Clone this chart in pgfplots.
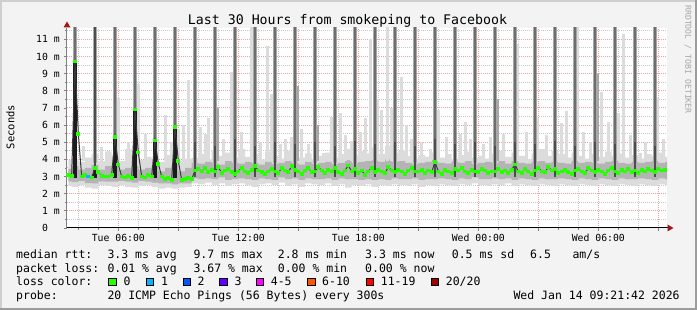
\documentclass[border=0pt]{standalone}
\usepackage{fontspec}
\setmonofont{DejaVu Sans Mono}
\usepackage{pgfplots}
\usepackage{pgfplotstable}
\pgfplotsset{compat=1.18}
\definecolor{bg}{HTML}{F3F3F3}
\definecolor{frameL}{HTML}{CFCFCF}
\definecolor{frameD}{HTML}{9C9C9C}
\definecolor{arrowred}{HTML}{A01818}
\definecolor{gridmaj}{HTML}{F0A0A0}
\definecolor{gridmin}{HTML}{C8C8C8}
\definecolor{smokeA}{HTML}{DCDCDC}
\definecolor{smokeB}{HTML}{B4B4B4}
\definecolor{halo}{HTML}{A8A8A8}
\definecolor{core}{HTML}{6E6E6E}
\definecolor{lowc}{HTML}{4D4D4D}
\definecolor{blk}{HTML}{1C1C1C}
\definecolor{medl}{HTML}{3A3A3A}
\definecolor{c0}{HTML}{26FF00}
\definecolor{c1}{HTML}{00B8FF}
\definecolor{c2}{HTML}{0059FF}
\definecolor{c3}{HTML}{5E00FF}
\definecolor{c4}{HTML}{FF00FF}
\definecolor{c6}{HTML}{FF5500}
\definecolor{c11}{HTML}{FF0000}
\definecolor{c20}{HTML}{A10000}

% light smoke band: upper edge forward, lower edge backward
\pgfplotstableread{
u y
21 3.95
23 4.05
25 3.85
27 4.10
29 4.30
31 3.90
33 4.45
35 4.20
37 3.90
39 4.60
41 4.30
43 3.95
45 4.15
47 4.00
49 3.85
51 4.25
53 4.40
55 3.90
57 4.05
59 4.10
61 4.30
63 4.00
65 4.50
67 4.20
69 4.40
71 4.10
73 4.60
75 4.15
77 4.30
79 4.00
81 4.45
83 4.20
85 4.05
87 4.50
89 4.25
91 4.10
93 4.35
95 4.00
97 4.20
99 4.40
101 4.10
103 4.30
105 4.60
107 4.25
109 4.50
111 4.35
113 4.70
115 4.30
117 4.80
119 4.40
121 4.50
123 4.20
125 4.05
127 4.25
129 4.15
131 4.40
133 4.10
135 4.30
137 4.00
139 4.25
141 4.45
143 4.10
145 4.20
147 4.05
149 4.30
151 4.50
153 4.15
155 4.40
157 4.20
159 4.00
161 4.35
163 4.60
165 4.20
167 4.50
169 4.30
171 4.10
173 4.40
175 4.20
177 4.05
179 4.30
181 4.15
183 4.45
185 4.20
187 4.35
189 4.10
191 4.25
193 4.05
195 4.30
197 4.20
199 4.40
201 4.15
201 2.50
199 2.55
197 2.45
195 2.50
193 2.55
191 2.45
189 2.50
187 2.55
185 2.45
183 2.50
181 2.55
179 2.45
177 2.50
175 2.55
173 2.45
171 2.50
169 2.55
167 2.45
165 2.50
163 2.55
161 2.45
159 2.50
157 2.55
155 2.45
153 2.60
151 2.50
149 2.55
147 2.45
145 2.50
143 2.60
141 2.50
139 2.55
137 2.45
135 2.50
133 2.55
131 2.45
129 2.50
127 2.40
125 2.55
123 2.45
121 2.50
119 2.55
117 2.45
115 2.50
113 2.40
111 2.55
109 2.45
107 2.50
105 2.35
103 2.55
101 2.45
99 2.60
97 2.50
95 2.55
93 2.60
91 2.40
89 2.55
87 2.45
85 2.65
83 2.50
81 2.60
79 2.55
77 2.40
75 2.50
73 2.60
71 2.55
69 2.45
67 2.60
65 2.50
63 2.65
61 2.55
59 2.60
57 2.40
55 2.35
53 2.30
51 2.35
49 2.30
47 2.40
45 2.50
43 2.45
41 2.35
39 2.40
37 2.50
35 2.40
33 2.45
31 2.50
29 2.30
27 2.35
25 2.50
23 2.40
21 2.45
}\bandA

% mid smoke band: upper edge forward, lower edge backward
\pgfplotstableread{
u y
21 3.45
23 3.60
25 3.40
27 3.50
29 3.70
31 3.40
33 3.60
35 3.70
37 3.40
39 3.50
41 3.60
43 3.40
45 3.50
47 3.60
49 3.30
51 3.50
53 3.70
55 3.30
57 3.50
59 3.80
61 3.75
63 3.85
65 3.80
67 3.70
69 3.90
71 3.80
73 3.75
75 3.85
77 3.80
79 3.70
81 3.85
83 3.75
85 3.80
87 3.90
89 3.80
91 3.70
93 3.85
95 3.75
97 3.80
99 3.85
101 3.75
103 3.80
105 3.95
107 3.80
109 3.85
111 3.90
113 3.95
115 3.85
117 4.00
119 3.85
121 3.90
123 3.80
125 3.75
127 3.80
129 3.85
131 3.95
133 3.80
135 3.75
137 3.85
139 3.80
141 3.90
143 3.75
145 3.80
147 3.85
149 3.80
151 3.90
153 3.75
155 3.90
157 3.80
159 3.75
161 3.85
163 3.90
165 3.80
167 3.85
169 3.80
171 3.75
173 3.90
175 3.80
177 3.85
179 3.80
181 3.75
183 3.85
185 3.90
187 3.80
189 3.75
191 3.85
193 3.80
195 3.85
197 3.90
199 3.80
201 3.85
201 2.85
199 2.90
197 2.80
195 2.85
193 2.90
191 2.85
189 2.85
187 2.90
185 2.80
183 2.85
181 2.90
179 2.80
177 2.85
175 2.90
173 2.80
171 2.85
169 2.90
167 2.85
165 2.85
163 2.90
161 2.80
159 2.85
157 2.90
155 2.80
153 2.90
151 2.85
149 2.90
147 2.85
145 2.85
143 2.95
141 2.85
139 2.90
137 2.80
135 2.85
133 2.90
131 2.85
129 2.85
127 2.80
125 2.90
123 2.85
121 2.85
119 2.90
117 2.80
115 2.85
113 2.80
111 2.85
109 2.80
107 2.85
105 2.85
103 2.90
101 2.80
99 2.90
97 2.85
95 2.85
93 2.90
91 2.80
89 2.90
87 2.85
85 2.95
83 2.80
81 2.85
79 2.90
77 2.80
75 2.85
73 2.90
71 2.85
69 2.80
67 2.95
65 2.85
63 2.90
61 2.85
59 2.90
57 2.60
55 2.60
53 2.55
51 2.60
49 2.60
47 2.65
45 2.70
43 2.75
41 2.65
39 2.70
37 2.75
35 2.70
33 2.70
31 2.72
29 2.60
27 2.62
25 2.75
23 2.68
21 2.72
}\bandB

\pgfplotstableread{
u m
21 3.10
22 3.05
23 9.70
24 5.50
25 3.00
26 3.10
27 3.00
28 2.95
29 3.50
30 3.25
31 3.05
32 3.00
33 3.00
34 3.10
35 5.30
36 3.70
37 3.00
38 2.95
39 3.05
40 2.90
41 6.90
42 4.40
43 3.00
44 2.95
45 3.10
46 3.00
47 5.10
48 3.75
49 3.00
50 2.85
51 2.90
52 2.80
53 5.90
54 3.90
55 2.80
56 2.85
57 2.90
58 2.85
59 3.35
60 3.45
61 3.30
62 3.50
63 3.25
64 3.40
65 3.30
66 3.55
67 3.20
68 3.35
69 3.45
70 3.25
71 3.15
72 3.30
73 3.50
74 3.30
75 3.20
76 3.40
77 3.60
78 3.35
79 3.25
80 3.15
81 3.30
82 3.45
83 3.30
84 3.20
85 3.50
86 3.35
87 3.25
88 3.60
89 3.40
90 3.30
91 3.15
92 3.35
93 3.50
94 3.25
95 3.30
96 3.55
97 3.35
98 3.20
99 3.40
100 3.30
101 3.50
102 3.25
103 3.15
104 3.35
105 3.65
106 3.30
107 3.45
108 3.20
109 3.35
110 3.10
111 3.30
112 3.50
113 3.25
114 3.40
115 3.30
116 3.20
117 3.55
118 3.35
119 3.25
120 3.40
121 3.30
122 3.15
123 3.35
124 3.50
125 3.30
126 3.30
127 3.40
128 3.20
129 3.35
130 3.25
131 3.85
132 3.30
133 3.15
134 3.40
135 3.30
136 3.20
137 3.45
138 3.35
139 3.50
140 3.30
141 3.20
142 3.40
143 3.30
144 3.25
145 3.45
146 3.35
147 3.20
148 3.30
149 3.30
150 3.45
151 3.25
152 3.35
153 3.20
154 3.40
155 3.70
156 3.30
157 3.20
158 3.45
159 3.30
160 3.15
161 3.35
162 3.50
163 3.30
164 3.25
165 3.55
166 3.35
167 3.45
168 3.20
169 3.30
170 3.40
171 3.25
172 3.15
173 3.35
174 3.45
175 3.30
176 3.20
177 3.50
178 3.35
179 3.25
180 3.40
181 3.30
182 3.15
183 3.35
184 3.50
185 3.30
186 3.20
187 3.40
188 3.30
189 3.45
190 3.25
191 3.35
192 3.20
193 3.40
194 3.30
195 3.45
196 3.35
197 3.25
198 3.45
199 3.35
200 3.40
}\med

\newcommand{\lf}{\ttfamily\fontsize{11.5}{12}\selectfont}

\begin{document}
\begin{tikzpicture}
\useasboundingbox (0pt,0pt) rectangle (697pt,310pt);
\fill[bg] (0pt,0pt) rectangle (697pt,310pt);
\fill[frameL] (0pt,308pt) rectangle (697pt,310pt);
\fill[frameL] (0pt,0pt) rectangle (2pt,310pt);
\fill[frameD] (0pt,0pt) rectangle (697pt,2pt);
\fill[frameD] (695pt,0pt) rectangle (697pt,310pt);

\begin{axis}[
  at={(67pt,82pt)}, anchor=south west,
  width=600pt, height=200pt, scale only axis,
  xmin=20.6, xmax=200.6, ymin=0, ymax=11.66,
  axis x line*=bottom, axis y line*=left, separate axis lines,
  x axis line style={black, line width=1pt},
  y axis line style={gray, line width=1pt},
  axis background/.style={fill=white},
  xtick={36,54,...,198},
  xticklabels={Tue 06:00,,Tue 12:00,,Tue 18:00,,Wed 00:00,,Wed 06:00,},
  minor xtick={24,30,42,48,60,66,78,84,96,102,114,120,132,138,150,156,168,174,186,192},
  ytick={0,...,11},
  yticklabels={0\phantom{ m},1 m,2 m,3 m,4 m,5 m,6 m,7 m,8 m,9 m,10 m,11 m},
  minor ytick={0.5,1.5,...,11.5},
  grid=both,
  major grid style={gridmaj, line width=1pt, dash pattern=on 1pt off 1pt},
  minor grid style={gridmin, line width=1pt, dash pattern=on 1pt off 1pt},
  tick align=outside,
  major tick length=3pt, minor tick length=2pt,
  tick style={gray, line width=0.8pt},
  tick label style={font=\ttfamily\fontsize{9.8}{10}\selectfont},
  xticklabel style={inner sep=0pt, yshift=-3pt},
  yticklabel style={inner sep=0pt, xshift=-4pt},
  unbounded coords=jump,
]
% smoke bands
\addplot[fill=smokeA, draw=none, mark=none, const plot mark mid] table[x=u,y=y]{\bandA};
\addplot[fill=smokeB, draw=none, mark=none, const plot mark mid] table[x=u,y=y]{\bandB};
% light smoke spikes
\addplot[smokeA, line width=3pt, mark=none] coordinates {
(25.5,3.9)(25.5,4.8)(25.5,nan) (31,3.9)(31,4.7)(31,nan) (47.8,3.9)(47.8,5.2)(47.8,nan)
(52,3.9)(52,5.0)(52,nan) (55.5,3.9)(55.5,6.0)(55.5,nan)
(33,3.9)(33,4.5)(33,nan) (36,3.9)(36,7.6)(36,nan) (39,3.9)(39,5.0)(39,nan)
(42,3.9)(42,8.4)(42,nan) (44,3.9)(44,5.5)(44,nan) (50,3.9)(50,6.6)(50,nan)
(54,3.9)(54,5.8)(54,nan) (57,3.9)(57,8.6)(57,nan) (60.5,3.9)(60.5,5.9)(60.5,nan)
(62,3.9)(62,5.5)(62,nan) (63,3.9)(63,6.4)(63,nan) (67.4,3.9)(67.4,5.2)(67.4,nan)
(70,3.9)(70,9.1)(70,nan) (73,3.9)(73,5.6)(73,nan) (76,3.9)(76,12)(76,nan)
(78.5,3.9)(78.5,5.0)(78.5,nan) (84.5,3.9)(84.5,4.9)(84.5,nan) (88,3.9)(88,5.3)(88,nan)
(80.6,3.9)(80.6,10.6)(80.6,nan) (82,3.9)(82,7.8)(82,nan) (86,3.9)(86,5.2)(86,nan)
(91,3.9)(91,5.8)(91,nan) (97.4,3.9)(97.4,4.4)(97.4,nan) (99.8,3.9)(99.8,6.5)(99.8,nan)
(93,3.9)(93,4.9)(93,nan) (104,3.9)(104,5.4)(104,nan) (108.5,3.9)(108.5,5.6)(108.5,nan)
(102.5,3.9)(102.5,6.7)(102.5,nan) (106,3.9)(106,5.1)(106,nan) (110,3.9)(110,6.4)(110,nan)
(111.5,3.9)(111.5,11.0)(111.5,nan) (115,3.9)(115,6.9)(115,nan) (116.6,3.9)(116.6,12)(116.6,nan)
(113.8,3.9)(113.8,7.5)(113.8,nan) (117.8,3.9)(117.8,7.0)(117.8,nan) (124,3.9)(124,5.2)(124,nan)
(121,3.9)(121,8.8)(121,nan) (122.3,3.9)(122.3,6.0)(122.3,nan) (129.5,3.9)(129.5,4.6)(129.5,nan)
(127,3.9)(127,5.0)(127,nan) (134.5,3.9)(134.5,5.3)(134.5,nan) (138.5,3.9)(138.5,5.5)(138.5,nan)
(132,3.9)(132,6.9)(132,nan) (140,3.9)(140,6.2)(140,nan) (141.5,3.9)(141.5,5.2)(141.5,nan)
(145.5,3.9)(145.5,4.9)(145.5,nan) (147.5,3.9)(147.5,5.3)(147.5,nan) (158.5,3.9)(158.5,5.6)(158.5,nan)
(151.4,3.9)(151.4,5.5)(151.4,nan) (155.8,3.9)(155.8,10.7)(155.8,nan) (161.6,3.9)(161.6,6.4)(161.6,nan)
(164.5,3.9)(164.5,5.4)(164.5,nan) (175.5,3.9)(175.5,5.6)(175.5,nan) (177.5,3.9)(177.5,5.0)(177.5,nan)
(166.7,3.9)(166.7,8.8)(166.7,nan) (169,3.9)(169,6.1)(169,nan) (170.3,3.9)(170.3,6.8)(170.3,nan)
(173.6,3.9)(173.6,12)(173.6,nan) (180.8,3.9)(180.8,7.9)(180.8,nan) (183,3.9)(183,6.2)(183,nan)
(189.5,3.9)(189.5,5.4)(189.5,nan) (194,3.9)(194,5.0)(194,nan) (199.5,3.9)(199.5,5.2)(199.5,nan)
(186,3.9)(186,6.7)(186,nan) (187.4,3.9)(187.4,11.3)(187.4,nan) (192.5,3.9)(192.5,4.4)(192.5,nan)
(197.6,3.9)(197.6,7.6)(197.6,nan)
};
% medium smoke spikes
\addplot[halo, line width=3pt, mark=none] coordinates {
(89.6,3.9)(89.6,8.3)(89.6,nan) (95.6,3.9)(95.6,6.0)(95.6,nan) (118.7,3.9)(118.7,8.9)(118.7,nan)
(65.6,3.9)(65.6,7.0)(65.6,nan) (149.6,3.9)(149.6,7.5)(149.6,nan) (179.6,3.9)(179.6,9.0)(179.6,nan)
};
% hourly spikes: halo
\addplot[halo, line width=4.6pt, mark=none] coordinates {
(23,3.8)(23,12)(23,nan) (29,3.8)(29,12)(29,nan) (35,3.8)(35,12)(35,nan)
(41,3.8)(41,12)(41,nan) (47,3.8)(47,12)(47,nan) (53,3.8)(53,12)(53,nan)
(59,3.8)(59,12)(59,nan) (65,3.8)(65,12)(65,nan) (71,3.8)(71,12)(71,nan)
(77,3.8)(77,12)(77,nan) (83,3.8)(83,12)(83,nan) (89,3.8)(89,12)(89,nan)
(95,3.8)(95,12)(95,nan) (101,3.8)(101,12)(101,nan) (107,3.8)(107,12)(107,nan)
(113,3.8)(113,12)(113,nan) (119,3.8)(119,12)(119,nan) (125,3.8)(125,12)(125,nan)
(131,3.8)(131,12)(131,nan) (137,3.8)(137,12)(137,nan) (143,3.8)(143,12)(143,nan)
(149,3.8)(149,12)(149,nan) (155,3.8)(155,12)(155,nan) (161,3.8)(161,12)(161,nan)
(167,3.8)(167,12)(167,nan) (173,3.8)(173,12)(173,nan) (179,3.8)(179,12)(179,nan)
(185,3.8)(185,12)(185,nan) (191,3.8)(191,12)(191,nan) (197,3.8)(197,12)(197,nan)
};
% hourly spikes: core
\addplot[core, line width=2.6pt, mark=none] coordinates {
(23,3.5)(23,12)(23,nan) (29,3.5)(29,12)(29,nan) (35,3.5)(35,12)(35,nan)
(41,3.5)(41,12)(41,nan) (47,3.5)(47,12)(47,nan) (53,3.5)(53,12)(53,nan)
(59,3.5)(59,12)(59,nan) (65,3.5)(65,12)(65,nan) (71,3.5)(71,12)(71,nan)
(77,3.5)(77,12)(77,nan) (83,3.5)(83,12)(83,nan) (89,3.5)(89,12)(89,nan)
(95,3.5)(95,12)(95,nan) (101,3.5)(101,12)(101,nan) (107,3.5)(107,12)(107,nan)
(113,3.5)(113,12)(113,nan) (119,3.5)(119,12)(119,nan) (125,3.5)(125,12)(125,nan)
(131,3.5)(131,12)(131,nan) (137,3.5)(137,12)(137,nan) (143,3.5)(143,12)(143,nan)
(149,3.5)(149,12)(149,nan) (155,3.5)(155,12)(155,nan) (161,3.5)(161,12)(161,nan)
(167,3.5)(167,12)(167,nan) (173,3.5)(173,12)(173,nan) (179,3.5)(179,12)(179,nan)
(185,3.5)(185,12)(185,nan) (191,3.5)(191,12)(191,nan) (197,3.5)(197,12)(197,nan)
};
% hourly spikes: darker lower part
\addplot[lowc, line width=2.6pt, mark=none] coordinates {
(59,3.0)(59,5.0)(59,nan) (65,3.0)(65,4.8)(65,nan) (71,3.0)(71,5.2)(71,nan)
(77,3.0)(77,4.8)(77,nan) (83,3.0)(83,5.0)(83,nan) (89,3.0)(89,4.9)(89,nan)
(95,3.0)(95,5.0)(95,nan) (101,3.0)(101,4.8)(101,nan) (107,3.0)(107,5.1)(107,nan)
(113,3.0)(113,4.9)(113,nan) (119,3.0)(119,5.0)(119,nan) (125,3.0)(125,4.8)(125,nan)
(131,3.0)(131,5.2)(131,nan) (137,3.0)(137,4.9)(137,nan) (143,3.0)(143,5.0)(143,nan)
(149,3.0)(149,4.8)(149,nan) (155,3.0)(155,5.0)(155,nan) (161,3.0)(161,4.9)(161,nan)
(167,3.0)(167,5.1)(167,nan) (173,3.0)(173,4.8)(173,nan) (179,3.0)(179,5.0)(179,nan)
(185,3.0)(185,4.9)(185,nan) (191,3.0)(191,5.0)(191,nan) (197,3.0)(197,4.8)(197,nan)
(29,3.0)(29,12)(29,nan)
};
% first spikes: black below the median
\addplot[blk, line width=3.4pt, mark=none] coordinates {
(23,2.9)(23,9.7)(23,nan) (29,2.9)(29,3.6)(29,nan) (35,2.9)(35,5.3)(35,nan)
(41,2.9)(41,6.9)(41,nan) (47,2.9)(47,5.1)(47,nan) (53,2.9)(53,5.9)(53,nan)
};
% median: dark line, then green marks on top
\addplot[medl, line width=1pt, mark=none] table[x=u,y=m]{\med};
\addplot[only marks, color=c0, mark=square*, mark size=1.35pt,
  mark options={draw=c0, fill=c0, line width=0pt}] table[x=u,y=m]{\med};
\addplot[only marks, color=c1, mark=square*, mark size=1.35pt,
  mark options={draw=c1, fill=c1, line width=0pt}] coordinates {(27,3.00)};
\end{axis}

% axis arrows
\fill[arrowred] (63.5pt,282.5pt) -- (70.5pt,282.5pt) -- (67pt,288.5pt) -- cycle;
\draw[black, line width=1pt] (666pt,82pt) -- (668pt,82pt);
\fill[arrowred] (667.5pt,78.5pt) -- (667.5pt,85.5pt) -- (673.5pt,82pt) -- cycle;

% title and side texts
\node[anchor=base, inner sep=0pt, font=\ttfamily\fontsize{13.25}{14}\selectfont] at (347.5pt,285.5pt) {Last 30 Hours from smokeping to Facebook};
\node[rotate=90, inner sep=0pt, font=\ttfamily\fontsize{10.5}{11}\selectfont] at (10.5pt,183pt) {Seconds};
\node[rotate=-90, anchor=west, inner sep=0pt, font=\ttfamily\fontsize{8.2}{9}\selectfont, text=black!35] at (688pt,305pt) {RRDTOOL / TOBI OETIKER};

% legend
\begin{scope}[every node/.style={anchor=base west, inner sep=0pt, font=\lf}]
\node at (16pt,51.3pt) {median rtt:};
\node at (107.3pt,51.3pt) {3.3 ms avg};
\node at (193.3pt,51.3pt) {9.7 ms max};
\node at (277.7pt,51.3pt) {2.8 ms min};
\node at (365pt,51.3pt) {3.3 ms now};
\node at (451.7pt,51.3pt) {0.5 ms sd};
\node at (530pt,51.3pt) {6.5};
\node at (572.3pt,51.3pt) {am/s};
\node at (16pt,37.7pt) {packet loss:};
\node at (107.3pt,37.7pt) {0.01 \% avg};
\node at (193.3pt,37.7pt) {3.67 \% max};
\node at (277.7pt,37.7pt) {0.00 \% min};
\node at (365pt,37.7pt) {0.00 \% now};
\node at (16pt,24pt) {loss color:};
\node at (123.3pt,24pt) {0};
\node at (161pt,24pt) {1};
\node at (197.3pt,24pt) {2};
\node at (234.3pt,24pt) {3};
\node at (270.7pt,24pt) {4-5};
\node at (322pt,24pt) {6-10};
\node at (380.7pt,24pt) {11-19};
\node at (445.7pt,24pt) {20/20};
\node at (16pt,10.5pt) {probe:};
\node at (107.3pt,10.5pt) {20 ICMP Echo Pings (56 Bytes) every 300s};
\node at (513.3pt,10.5pt) {Wed Jan 14 09:21:42 2026};
\end{scope}
\foreach \xx/\cc in {108.8/c0,146.2/c1,183.2/c2,219.8/c3,256.5/c4,307.8/c6,366.2/c11,431.2/c20}{
  \filldraw[fill=\cc, draw=black, line width=0.9pt] (\xx pt,24.2pt) rectangle ++(7.4pt,7.8pt);
}
\end{tikzpicture}
\end{document}
